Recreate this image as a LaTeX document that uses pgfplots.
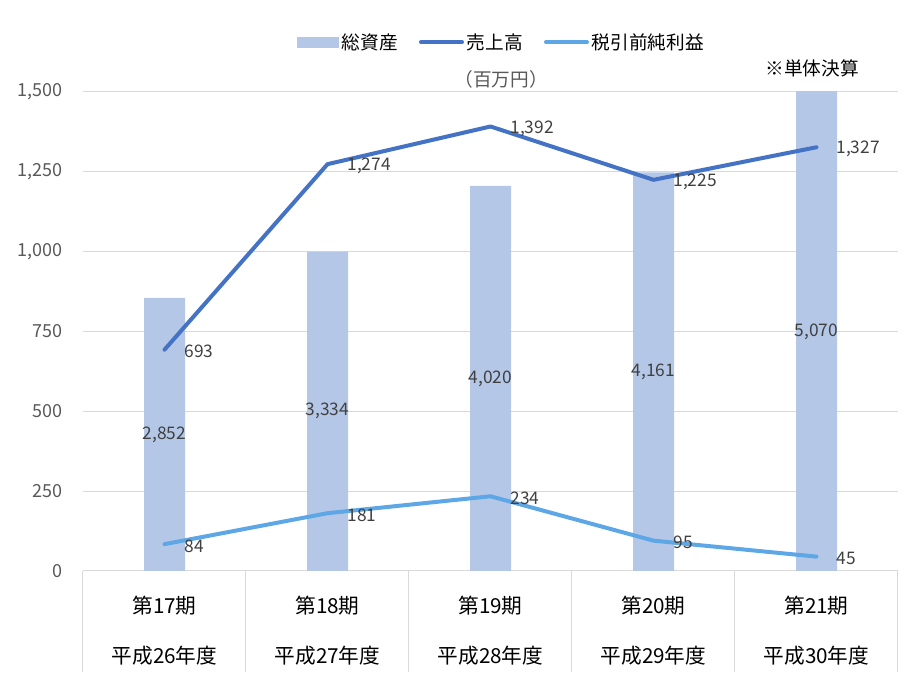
\documentclass[border=0pt]{standalone}
\usepackage{pgfplots}
\pgfplotsset{compat=1.18}
\usepackage{pgfplotstable}
\usepackage{fontspec}
\setmainfont{Noto Sans CJK JP}
\definecolor{barc}{HTML}{B4C7E7}
\definecolor{darkl}{HTML}{4472C4}
\definecolor{lightl}{HTML}{5EA7E6}
\definecolor{gridc}{HTML}{D9D9D9}
\definecolor{txt}{HTML}{595959}
\definecolor{lbl}{HTML}{404040}
\pgfplotstableread{
x v sales profit
0 2852 693 84
1 3334 1274 181
2 4020 1392 234
3 4161 1225 95
4 5070 1327 45
}\data
\pgfplotsset{
  base/.style={
    scale only axis, width=611.25pt, height=359.25pt,
    at={(62.25pt,96.75pt)}, anchor=south west,
    xmin=-0.5, xmax=4.5,
    /pgf/number format/.cd, 1000 sep={,}, assume math mode=true,
  },
}
\begin{document}
\begin{tikzpicture}
\path[use as bounding box] (0,0) rectangle (688.5pt,525pt);
% axis A: grid, ticks, categories
\begin{axis}[base, clip=false,
  ymin=0, ymax=1500, ytick={0,250,...,1500},
  ymajorgrids, grid style={gridc, line width=0.75pt},
  axis x line*=bottom, axis y line*=left,
  x axis line style={gridc, line width=0.75pt, -},
  y axis line style={draw=none},
  ytick style={draw=none}, xtick style={draw=none},
  yticklabel style={font=\fontsize{13.5}{16}\selectfont, text=txt, xshift=-11.5pt},
  xtick={0,1,2,3,4},
  xticklabels={{第17期\\平成26年度},{第18期\\平成27年度},{第19期\\平成28年度},{第20期\\平成29年度},{第21期\\平成30年度}},
  xticklabel style={font=\fontsize{15.5}{38}\selectfont, align=center, text=black, yshift=-15pt},
]
\addplot[draw=none] coordinates {(0,0)};
\pgfplotsinvokeforeach{-0.5,0.5,1.5,2.5,3.5,4.5}{
  \draw[gridc, line width=0.75pt] (axis cs:#1,0) -- ++(0pt,-75.75pt);
}
\end{axis}
% axis B: bars on hidden secondary scale
\begin{axis}[base, ymin=0, ymax=5000, hide axis]
\addplot[ybar, bar width=30.75pt, fill=barc, draw=none] table[x=x, y=v] {\data};
\addplot[draw=none, mark=none, nodes near coords, point meta=explicit,
  nodes near coords={\pgfmathprintnumber{\pgfplotspointmeta}},
  every node near coord/.append style={anchor=center, font=\fontsize{13}{15}\selectfont, text=lbl}]
  table[x=x, y expr={min(\thisrow{v},5000)/2}, meta=v] {\data};
\end{axis}
% axis C: lines
\begin{axis}[base, ymin=0, ymax=1500, hide axis, clip=false,
  legend columns=3,
  legend style={at={(0.514,1.104)}, anchor=center, draw=none, fill=none,
     font=\fontsize{14}{16}\selectfont, /tikz/every even column/.append style={column sep=14pt}},
  nodes near coords={\pgfmathprintnumber{\pgfplotspointmeta}},
  every node near coord/.append style={anchor=west, inner sep=0pt, xshift=13.5pt, yshift=-1.5pt,
     font=\fontsize{13}{15}\selectfont, text=lbl},
]
\addlegendimage{legend image code/.code={\fill[barc] (0pt,-3.5pt) rectangle (30.75pt,3.5pt);}}
\addlegendentry{総資産}
\addplot[darkl, line width=3pt, line cap=round, line join=round, mark=none,
  legend image code/.code={\draw[darkl, line width=3pt, line cap=round] (0pt,0pt) -- (30.75pt,0pt);}]
  table[x=x, y=sales] {\data};
\addlegendentry{売上高}
\addplot[lightl, line width=3pt, line cap=round, line join=round, mark=none,
  legend image code/.code={\draw[lightl, line width=3pt, line cap=round] (0pt,0pt) -- (30.75pt,0pt);}]
  table[x=x, y=profit] {\data};
\addlegendentry{税引前純利益}
\end{axis}
\node[font=\fontsize{14}{16}\selectfont, text=txt] at (375.75pt,465.75pt) {（百万円）};
\node[font=\fontsize{14}{16}\selectfont, text=black] at (609pt,474pt) {※単体決算};
\end{tikzpicture}
\end{document}
